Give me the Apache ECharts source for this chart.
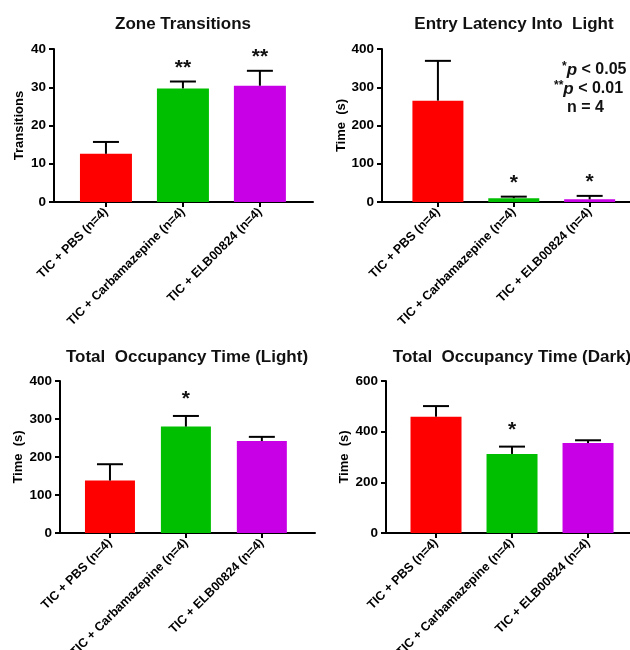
<!DOCTYPE html>
<html>
<head>
<meta charset="utf-8">
<script src="https://cdn.jsdelivr.net/npm/echarts@6/dist/echarts.min.js"></script>
<style>html,body{margin:0;padding:0;background:#fff}#c{width:630px;height:650px}</style>
</head>
<body>
<div id="c"></div>
<script>
// ---- data ----
const categories = ['TIC + PBS (n=4)', 'TIC + Carbamazepine (n=4)', 'TIC + ELB00824 (n=4)'];
const barColors = ['#ff0000', '#00bf00', '#c800e6'];

const zoneMean = [12.6, 29.7, 30.4];
const zoneSem = [3.1, 1.8, 3.9];
const zoneSig = ['', '**', '**'];

const latencyMean = [265, 10, 7];
const latencySem = [104, 4, 9];
const latencySig = ['', '*', '*'];

const lightMean = [138, 280, 242];
const lightSem = [43, 28, 11];
const lightSig = ['', '*', ''];

const darkMean = [459, 312, 355];
const darkSem = [42, 29, 11];
const darkSig = ['', '*', ''];

const titles = ['Zone Transitions', 'Entry Latency Into  Light', 'Total  Occupancy Time (Light)', 'Total  Occupancy Time (Dark)'];
const yNames = ['Transitions', 'Time  (s)', 'Time  (s)', 'Time  (s)'];
const yMax = [40, 400, 400, 600];
const yInterval = [10, 100, 100, 200];

// ---- layout ----
const FONT = '"Liberation Sans", Arial, sans-serif';
const panels = [
  {mean: zoneMean, sem: zoneSem, sig: zoneSig, left: 54, width: 259, top: 49, height: 153, xmin: -0.675, xmax: 2.69, barW: 52, nameGap: 28, starOff: 3, title: [183, 24]},
  {mean: latencyMean, sem: latencySem, sig: latencySig, left: 382, width: 260, top: 49, height: 153, xmin: -0.737, xmax: 2.69, barW: 51, nameGap: 27, starOff: 3, title: [514, 24]},
  {mean: lightMean, sem: lightSem, sig: lightSig, left: 60, width: 255, top: 381, height: 152, xmin: -0.658, xmax: 2.70, barW: 50, nameGap: 35, starOff: 6, title: [187, 357]},
  {mean: darkMean, sem: darkSem, sig: darkSig, left: 386, width: 256, top: 381, height: 152, xmin: -0.658, xmax: 2.71, barW: 51, nameGap: 35, starOff: 6, title: [512, 357]}
];

const grid = [], xAxis = [], yAxis = [], series = [], graphic = [];
panels.forEach((p, i) => {
  grid.push({left: p.left, top: p.top, width: p.width, height: p.height, containLabel: false, outerBoundsMode: 'none'});
  xAxis.push({
    type: 'value', gridIndex: i, min: p.xmin, max: p.xmax,
    splitLine: {show: false},
    axisLine: {show: true, onZero: false, lineStyle: {color: '#000', width: 2}},
    axisTick: {show: true, customValues: [0, 1, 2], length: 5, inside: false, lineStyle: {color: '#000', width: 2}},
    axisLabel: {customValues: [0, 1, 2], rotate: 45, margin: 8, formatter: v => categories[Math.round(v)] || '',
      color: '#000', fontWeight: 'bold', fontSize: 12.5, fontFamily: FONT}
  });
  yAxis.push({
    type: 'value', gridIndex: i, min: 0, max: yMax[i], interval: yInterval[i],
    splitLine: {show: false},
    axisLine: {show: true, onZero: false, lineStyle: {color: '#000', width: 2}},
    axisTick: {show: true, length: 5, lineStyle: {color: '#000', width: 2}},
    axisLabel: {margin: 8, color: '#000', fontWeight: 'bold', fontSize: 13.5, fontFamily: FONT},
    name: yNames[i], nameLocation: 'middle', nameGap: p.nameGap,
    nameTextStyle: {color: '#000', fontWeight: 'bold', fontSize: 13, fontFamily: FONT}
  });
  series.push({
    type: 'bar', xAxisIndex: i, yAxisIndex: i, barWidth: p.barW, silent: true,
    data: p.mean.map((m, k) => ({value: [k, m], itemStyle: {color: barColors[k]}}))
  });
  series.push({
    type: 'custom', xAxisIndex: i, yAxisIndex: i, silent: true, z: 5,
    data: p.mean.map((m, k) => [k, m, m + p.sem[k], k]),
    renderItem: function (params, api) {
      const x = api.value(0), m = api.value(1), e = api.value(2), k = api.value(3);
      const b = api.coord([x, m]);
      const t = api.coord([x, e]);
      const children = [
        {type: 'line', shape: {x1: b[0], y1: b[1], x2: t[0], y2: t[1]}, style: {stroke: '#000', lineWidth: 2}},
        {type: 'line', shape: {x1: t[0] - 13, y1: t[1], x2: t[0] + 13, y2: t[1]}, style: {stroke: '#000', lineWidth: 2}}
      ];
      const s = p.sig[k];
      if (s) {
        children.push({type: 'text', x: t[0], y: t[1] - p.starOff,
          style: {text: s, align: 'center', verticalAlign: 'bottom', fill: '#111', font: 'bold 21px ' + FONT}});
      }
      return {type: 'group', children: children};
    }
  });
  graphic.push({type: 'text', x: p.title[0], y: p.title[1],
    style: {text: titles[i], align: 'center', verticalAlign: 'middle', fill: '#111', font: 'bold 17px ' + FONT}});
});

const legendLines = [
  {x: 562, y: 70, text: '{s|*}{p|p}{t| < 0.05}'},
  {x: 554, y: 89, text: '{s|**}{p|p}{t| < 0.01}'},
  {x: 567, y: 108, text: '{t|n = 4}'}
];
legendLines.forEach(l => graphic.push({type: 'text', x: l.x, y: l.y,
  style: {text: l.text, align: 'left', verticalAlign: 'middle', fill: '#111',
    rich: {
      s: {font: 'bold 12px ' + FONT, fill: '#111', verticalAlign: 'top', padding: [0, 0, 6, 0]},
      p: {font: 'italic bold 17px ' + FONT, fill: '#111'},
      t: {font: 'bold 16px ' + FONT, fill: '#111'}
    }}}));

const chart = echarts.init(document.getElementById('c'), null, {renderer: 'canvas'});
chart.setOption({
  animation: false,
  backgroundColor: '#fff',
  grid, xAxis, yAxis, series, graphic
});
</script>
</body>
</html>
